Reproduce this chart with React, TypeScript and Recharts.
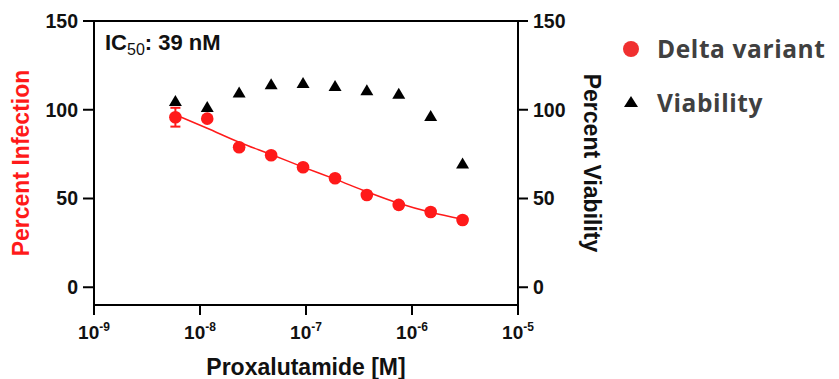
import React from 'react';
import {
  ComposedChart,
  Scatter,
  Line,
  XAxis,
  YAxis,
  ErrorBar,
  ReferenceLine,
} from 'recharts';

// 2-fold dilution series of proxalutamide (M)
const concentrations = [5.86e-9, 1.17e-8, 2.34e-8, 4.69e-8, 9.38e-8, 1.88e-7, 3.75e-7, 7.5e-7, 1.5e-6, 3e-6];
const infection = [95.8, 95.0, 78.9, 74.4, 67.6, 61.4, 52.0, 46.4, 42.4, 37.9];
const infectionErr = [5.3, 1.5, 1.5, 1.5, 1.5, 1.5, 1.5, 1.5, 1.5, 1.5];
const infectionFit = [97.2, 89.6, 81.7, 74.8, 67.7, 60.9, 53.8, 47.3, 42.2, 38.3];
const viability = [105.2, 101.8, 110.0, 114.6, 115.3, 113.6, 111.2, 109.3, 96.7, 70.0];

const xTicks = [1e-9, 1e-8, 1e-7, 1e-6, 1e-5];
const yTicks = [0, 50, 100, 150];

const RED = '#ff1a1a';
const FONT = '"Liberation Sans", Arial, sans-serif';

const infectionData = concentrations.map((x, i) => ({ x, y: infection[i], err: infectionErr[i] }));
const fitData = concentrations.map((x, i) => ({ x, fit: infectionFit[i] }));
const viabilityData = concentrations.map((x, i) => ({ x, v: viability[i] }));

const PowerTick = (props: any) => {
  const { x, y, payload } = props;
  const exp = Math.round(Math.log10(payload.value));
  return (
    <text x={x} y={y + 22} textAnchor="middle" fontFamily={FONT} fontWeight="bold" fontSize={19} fill="#111">
      <tspan>10</tspan>
      <tspan dy={-8} fontSize={12}>{exp}</tspan>
    </text>
  );
};

const Triangle = (props: any) => {
  const { cx, cy } = props;
  const w = 6.5;
  const h = 11;
  return <polygon points={`${cx},${cy - h / 2} ${cx + w},${cy + h / 2} ${cx - w},${cy + h / 2}`} fill="#000" />;
};

const Dot = (props: any) => <circle cx={props.cx} cy={props.cy} r={6.3} fill={RED} />;

const App: React.FC = () => {
  const tickStyle = { fontFamily: FONT, fontWeight: 'bold', fontSize: 19.5, fill: '#111' };
  const axisStroke = { stroke: '#000', strokeWidth: 2 };
  const legendFont = { fontFamily: '"Open Sans", sans-serif', fontWeight: 'bold', fontSize: 24.5, letterSpacing: 0.6 };

  return (
    <div style={{ position: 'relative', width: 831, height: 371 }}>
      <ComposedChart width={831} height={371} margin={{ top: 13, right: 241, bottom: 4, left: 16 }}>
        <XAxis
          dataKey="x"
          type="number"
          scale="log"
          domain={[1e-9, 1e-5]}
          ticks={xTicks}
          allowDataOverflow
          height={70}
          axisLine={axisStroke}
          tickLine={axisStroke}
          tickSize={10}
          tick={<PowerTick />}
          interval={0}
          label={(p: any) => {
            const vb = p.viewBox;
            return (
              <text x={vb.x + vb.width / 2} y={vb.y + 70} textAnchor="middle" fontFamily={FONT} fontWeight="bold" fontSize={23} fill="#111">
                Proxalutamide [M]
              </text>
            );
          }}
        />
        <YAxis
          yAxisId="left"
          type="number"
          domain={[-10, 150]}
          ticks={yTicks}
          width={70}
          axisLine={axisStroke}
          tickLine={axisStroke}
          tickSize={11}
          tickMargin={5}
          tick={tickStyle}
          label={(p: any) => {
            const vb = p.viewBox;
            const cx = vb.x - 3;
            const cy = vb.y + vb.height / 2;
            return (
              <text x={cx} y={cy} transform={`rotate(-90, ${cx}, ${cy})`} textAnchor="middle" dominantBaseline="central" fontFamily={FONT} fontWeight="bold" fontSize={23} fill={RED}>
                Percent Infection
              </text>
            );
          }}
        />
        <YAxis
          yAxisId="right"
          orientation="right"
          type="number"
          domain={[-10, 150]}
          ticks={yTicks}
          width={80}
          axisLine={axisStroke}
          tickLine={axisStroke}
          tickSize={10}
          tickMargin={5}
          tick={tickStyle}
          label={(p: any) => {
            const vb = p.viewBox;
            const cx = vb.x + 74;
            const cy = vb.y + vb.height / 2;
            return (
              <text x={cx} y={cy} transform={`rotate(90, ${cx}, ${cy})`} textAnchor="middle" dominantBaseline="central" fontFamily={FONT} fontWeight="bold" fontSize={23} fill="#111">
                Percent Viability
              </text>
            );
          }}
        />
        <ReferenceLine
          yAxisId="left"
          y={150}
          stroke="#000"
          strokeWidth={2}
          label={(p: any) => {
            const vb = p.viewBox;
            return (
              <text x={vb.x + 11} y={vb.y + 29} fontFamily={FONT} fontWeight="bold" fontSize={22} fill="#111">
                IC
                <tspan fontSize={16} fontWeight="normal" dy={5}>50</tspan>
                <tspan dy={-5}>: 39 nM</tspan>
              </text>
            );
          }}
        />
        <Line
          yAxisId="left"
          data={fitData}
          dataKey="fit"
          type="monotone"
          stroke={RED}
          strokeWidth={1.5}
          dot={false}
          isAnimationActive={false}
        />
        <Scatter yAxisId="left" data={infectionData} dataKey="y" shape={<Dot />} isAnimationActive={false}>
          <ErrorBar dataKey="err" direction="y" width={5} stroke={RED} strokeWidth={2} />
        </Scatter>
        <Scatter yAxisId="right" data={viabilityData} dataKey="v" shape={<Triangle />} isAnimationActive={false} />
      </ComposedChart>
      <svg style={{ position: 'absolute', left: 600, top: 0, overflow: 'visible' }} width={231} height={130}>
        <circle cx={23} cy={41} r={8} fill="#f03030" />
        <text x={49} y={50} {...legendFont} fill="#404040">
          Delta variant
        </text>
        <polygon points="23,88 30,99 16,99" fill="#000" />
        <text x={49} y={104} {...legendFont} fill="#404040">
          Viability
        </text>
      </svg>
    </div>
  );
};

export default App;
